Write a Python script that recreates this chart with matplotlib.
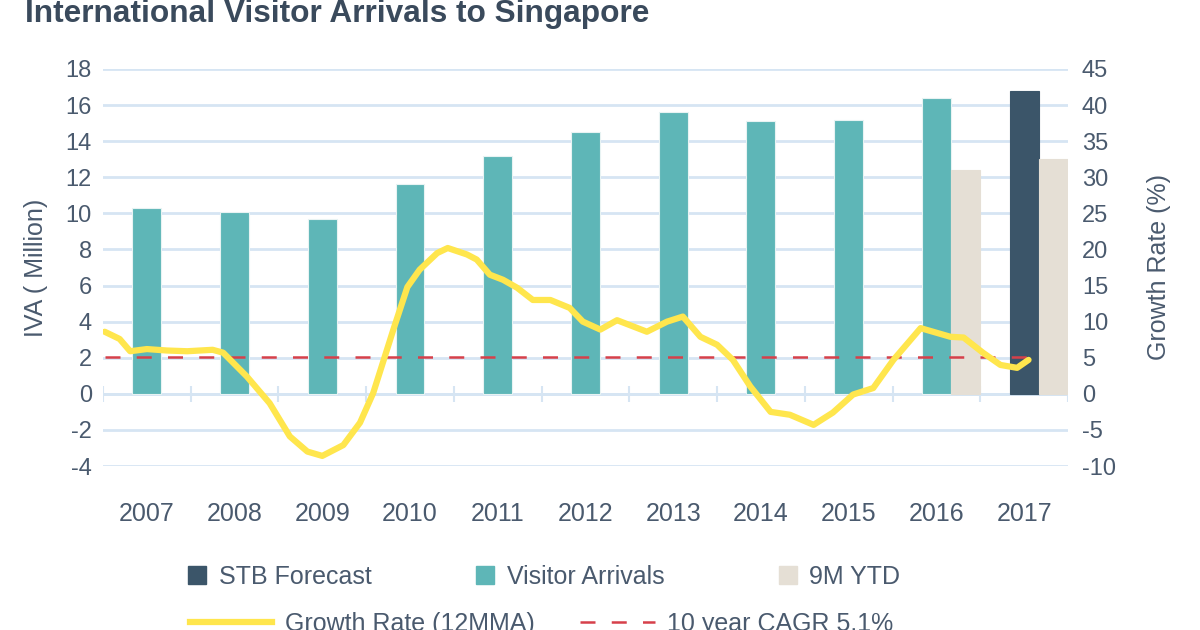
import matplotlib
matplotlib.use("Agg")
import matplotlib.pyplot as plt
from matplotlib.patches import Patch
from matplotlib.lines import Line2D
import numpy as np

plt.rcParams['font.family'] = ['Liberation Sans', 'DejaVu Sans']
plt.rcParams['axes.unicode_minus'] = False

# data
years = ['2007', '2008', '2009', '2010', '2011', '2012', '2013', '2014', '2015', '2016', '2017']
arrivals = [10.3, 10.1, 9.7, 11.6, 13.2, 14.5, 15.6, 15.1, 15.2, 16.4]   # 2007-2016
forecast_2017 = 16.8
ytd_years = ['2016', '2017']
ytd = [12.4, 13.0]

growth_t = [2007.02, 2007.19, 2007.31, 2007.50, 2007.73, 2007.96, 2008.25, 2008.37,
            2008.64, 2008.90, 2009.13, 2009.33, 2009.50, 2009.74, 2009.93, 2010.08,
            2010.19, 2010.31, 2010.47, 2010.61, 2010.81, 2010.93, 2011.15, 2011.26,
            2011.41, 2011.56, 2011.72, 2011.90, 2012.10, 2012.32, 2012.47, 2012.67,
            2012.86, 2013.20, 2013.43, 2013.61, 2013.81, 2014.00, 2014.18, 2014.38,
            2014.61, 2014.83, 2015.10, 2015.32, 2015.55, 2015.78, 2016.01, 2016.32,
            2016.66, 2016.81, 2017.03, 2017.23, 2017.42, 2017.55]
growth = [8.6, 7.6, 5.9, 6.2, 6.0, 5.9, 6.1, 5.7,
          2.4, -1.3, -5.9, -8.0, -8.6, -7.1, -4.0, 0.1,
          4.3, 8.9, 14.8, 17.2, 19.5, 20.2, 19.3, 18.6,
          16.5, 15.8, 14.7, 13.0, 13.0, 11.9, 10.0, 8.9,
          10.2, 8.6, 10.0, 10.7, 7.9, 6.8, 4.7, 1.0,
          -2.5, -2.9, -4.3, -2.6, -0.1, 0.8, 4.7, 9.1,
          7.9, 7.8, 5.7, 4.0, 3.6, 4.7]
cagr = 5.1

teal = '#5eb6b7'
navy = '#3b5569'
beige = '#e5dfd5'
yellow = '#ffe64d'
red = '#d6404a'
grid = '#d6e5f3'
txt = '#4a5a6e'

fig = plt.figure(figsize=(12, 6.3), dpi=100)
ax = fig.add_axes([0.0858, 0.2603, 0.8042, 0.6302])
ax2 = ax.twinx()

x = np.arange(len(years))
w = 0.33
ax.bar(x[:len(arrivals)], arrivals, width=w, color=teal, edgecolor='#e8f3f3', linewidth=0.8, zorder=2)
ax.bar(years.index('2017'), forecast_2017, width=w, color=navy, edgecolor=navy, linewidth=0.8, zorder=2)
ytd_x = np.array([years.index(y) for y in ytd_years])
ax.bar(ytd_x + w, ytd, width=w, color=beige, edgecolor=beige, linewidth=0.8, zorder=2)

ax.set_xlim(-0.5, len(years) - 0.5)
ax.set_ylim(-4, 18)
ax.set_yticks(np.arange(-4, 19, 2))
ax.set_xticks(x)
ax.set_xticklabels(years)
ax.grid(axis='y', color=grid, linewidth=2, zorder=0)
ax.set_axisbelow(True)
ax.vlines(np.arange(len(years) + 1) - 0.5, -0.45, 0.45, color=grid, linewidth=1.5, zorder=1)
ax.axhline(0, color=grid, linewidth=2, zorder=1)

ax2.set_ylim(-10, 45)
ax2.set_yticks(np.arange(-10, 46, 5))
gx = np.array(growth_t) - 2007 - 0.5
ax2.plot([gx[0], gx[-1]], [cagr, cagr], color=red, linewidth=1.8, dashes=(6, 6.5), zorder=3)
ax2.plot(gx, growth, color=yellow, linewidth=4.5, solid_capstyle='round',
         solid_joinstyle='round', zorder=4)

for a in (ax, ax2):
    for s in a.spines.values():
        s.set_visible(False)
    a.tick_params(length=0, colors=txt, labelsize=17)
ax.tick_params(axis='y', pad=8)
ax.tick_params(axis='x', pad=26, labelsize=18)
ax2.tick_params(axis='y', pad=10)

ax.set_ylabel('IVA ( Million)', fontsize=18, color=txt)
ax.yaxis.set_label_coords(-0.057, 0.5)
ax2.set_ylabel('Growth Rate (%)', fontsize=18, color=txt, rotation=90)
ax2.yaxis.set_label_coords(1.082, 0.5)

fig.text(0.021, 0.965, 'International Visitor Arrivals to Singapore', fontsize=22.8,
         fontweight='bold', color='#3a4a5c', va='baseline')

# legend, placed item by item like the original
items = [
    (Patch(color=navy), 'STB Forecast', 0.157, 0.084, 0.72),
    (Patch(color=teal), 'Visitor Arrivals', 0.397, 0.084, 0.72),
    (Patch(color=beige), '9M YTD', 0.649, 0.084, 0.72),
    (Line2D([], [], color=yellow, linewidth=4.5), 'Growth Rate (12MMA)', 0.158, 0.010, 3.3),
    (Line2D([], [], color=red, linewidth=1.8, dashes=(6, 6.5)), '10 year CAGR 5.1%', 0.483, 0.010, 3.0),
]
for h, lab, lx, ly, hl in items:
    fig.legend([h], [lab], loc='center left', bbox_to_anchor=(lx, ly), frameon=False,
               fontsize=18, handlelength=hl, handleheight=0.72, handletextpad=0.5,
               borderpad=0, borderaxespad=0, labelcolor=txt)

fig.savefig('out.png', dpi=100)
